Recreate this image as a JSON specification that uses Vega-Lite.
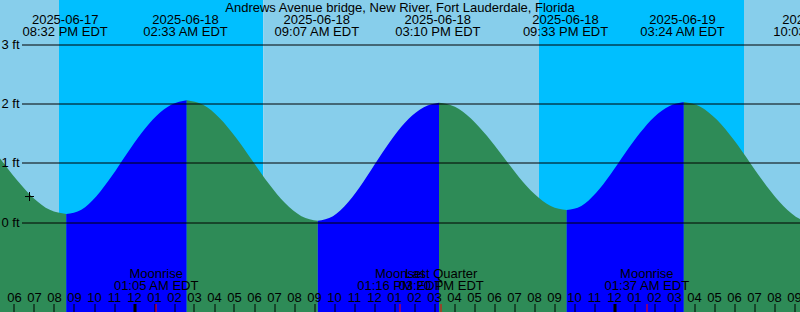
{
  "$schema": "https://vega.github.io/schema/vega-lite/v6.json",
  "width": 800,
  "height": 312,
  "autosize": "none",
  "padding": 0,
  "background": "white",
  "config": {"font": "Liberation Sans", "view": {"stroke": null}},
  "datasets": {
    "bands": [
      {"t": -7, "t_end": -3.775, "kind": "day"},
      {"t": -3.775, "t_end": 6.44, "kind": "night"},
      {"t": 6.44, "t_end": 20.225, "kind": "day"},
      {"t": 20.225, "t_end": 30.475, "kind": "night"},
      {"t": 30.475, "t_end": 34, "kind": "day"}
    ],
    "tide": [
      {"t": -7.529, "h": 1.427, "seg": 1, "kind": "falling"},
      {"t": -6.705, "h": 1.072, "seg": 1, "kind": "falling"},
      {"t": -5.881, "h": 0.716, "seg": 1, "kind": "falling"},
      {"t": -5.058, "h": 0.415, "seg": 1, "kind": "falling"},
      {"t": -4.234, "h": 0.214, "seg": 1, "kind": "falling"},
      {"t": -3.41, "h": 0.143, "seg": 1, "kind": "falling"},
      {"t": -3.41, "h": 0.143, "seg": 2, "kind": "rising"},
      {"t": -2.6575, "h": 0.216, "seg": 2, "kind": "rising"},
      {"t": -1.905, "h": 0.444, "seg": 2, "kind": "rising"},
      {"t": -1.1525, "h": 0.775, "seg": 2, "kind": "rising"},
      {"t": -0.4, "h": 1.152, "seg": 2, "kind": "rising"},
      {"t": 0.3525, "h": 1.508, "seg": 2, "kind": "rising"},
      {"t": 1.105, "h": 1.799, "seg": 2, "kind": "rising"},
      {"t": 1.8575, "h": 1.987, "seg": 2, "kind": "rising"},
      {"t": 2.61, "h": 2.06, "seg": 2, "kind": "rising"},
      {"t": 2.61, "h": 2.06, "seg": 3, "kind": "falling"},
      {"t": 3.429, "h": 1.983, "seg": 3, "kind": "falling"},
      {"t": 4.249, "h": 1.763, "seg": 3, "kind": "falling"},
      {"t": 5.068, "h": 1.433, "seg": 3, "kind": "falling"},
      {"t": 5.8875, "h": 1.045, "seg": 3, "kind": "falling"},
      {"t": 6.707, "h": 0.657, "seg": 3, "kind": "falling"},
      {"t": 7.526, "h": 0.327, "seg": 3, "kind": "falling"},
      {"t": 8.346, "h": 0.107, "seg": 3, "kind": "falling"},
      {"t": 9.165, "h": 0.03, "seg": 3, "kind": "falling"},
      {"t": 9.165, "h": 0.03, "seg": 4, "kind": "rising"},
      {"t": 9.9225, "h": 0.106, "seg": 4, "kind": "rising"},
      {"t": 10.68, "h": 0.341, "seg": 4, "kind": "rising"},
      {"t": 11.4375, "h": 0.684, "seg": 4, "kind": "rising"},
      {"t": 12.195, "h": 1.075, "seg": 4, "kind": "rising"},
      {"t": 12.9525, "h": 1.446, "seg": 4, "kind": "rising"},
      {"t": 13.71, "h": 1.749, "seg": 4, "kind": "rising"},
      {"t": 14.4675, "h": 1.944, "seg": 4, "kind": "rising"},
      {"t": 15.225, "h": 2.02, "seg": 4, "kind": "rising"},
      {"t": 15.225, "h": 2.02, "seg": 5, "kind": "falling"},
      {"t": 16.023, "h": 1.951, "seg": 5, "kind": "falling"},
      {"t": 16.821, "h": 1.755, "seg": 5, "kind": "falling"},
      {"t": 17.619, "h": 1.461, "seg": 5, "kind": "falling"},
      {"t": 18.4175, "h": 1.115, "seg": 5, "kind": "falling"},
      {"t": 19.216, "h": 0.769, "seg": 5, "kind": "falling"},
      {"t": 20.014, "h": 0.475, "seg": 5, "kind": "falling"},
      {"t": 20.812, "h": 0.279, "seg": 5, "kind": "falling"},
      {"t": 21.61, "h": 0.21, "seg": 5, "kind": "falling"},
      {"t": 21.61, "h": 0.21, "seg": 6, "kind": "rising"},
      {"t": 22.342, "h": 0.279, "seg": 6, "kind": "rising"},
      {"t": 23.074, "h": 0.496, "seg": 6, "kind": "rising"},
      {"t": 23.806, "h": 0.812, "seg": 6, "kind": "rising"},
      {"t": 24.5375, "h": 1.17, "seg": 6, "kind": "rising"},
      {"t": 25.269, "h": 1.508, "seg": 6, "kind": "rising"},
      {"t": 26.001, "h": 1.784, "seg": 6, "kind": "rising"},
      {"t": 26.733, "h": 1.961, "seg": 6, "kind": "rising"},
      {"t": 27.465, "h": 2.03, "seg": 6, "kind": "rising"},
      {"t": 27.465, "h": 2.03, "seg": 7, "kind": "falling"},
      {"t": 28.294, "h": 1.952, "seg": 7, "kind": "falling"},
      {"t": 29.124, "h": 1.73, "seg": 7, "kind": "falling"},
      {"t": 29.953, "h": 1.397, "seg": 7, "kind": "falling"},
      {"t": 30.7825, "h": 1.005, "seg": 7, "kind": "falling"},
      {"t": 31.612, "h": 0.613, "seg": 7, "kind": "falling"},
      {"t": 32.441, "h": 0.28, "seg": 7, "kind": "falling"},
      {"t": 33.271, "h": 0.058, "seg": 7, "kind": "falling"},
      {"t": 34.1, "h": -0.02, "seg": 7, "kind": "falling"}
    ],
    "now": [{"t": -5.25, "h": 0.438}],
    "title": [{"t": 13.275, "label": "Andrews Avenue bridge, New River, Fort Lauderdale, Florida"}],
    "extremes": [
      {"t": -3.4667, "label": "2025-06-17\n08:32 PM EDT"},
      {"t": 2.55, "label": "2025-06-18\n02:33 AM EDT"},
      {"t": 9.1167, "label": "2025-06-18\n09:07 AM EDT"},
      {"t": 15.1667, "label": "2025-06-18\n03:10 PM EDT"},
      {"t": 21.55, "label": "2025-06-18\n09:33 PM EDT"},
      {"t": 27.4, "label": "2025-06-19\n03:24 AM EDT"},
      {"t": 34.05, "label": "2025-06-19\n10:03 AM EDT"}
    ],
    "moon": [
      {"t": 1.0833, "label": "Moonrise\n01:05 AM EDT"},
      {"t": 13.2667, "label": "Moonset\n01:16 PM EDT"},
      {"t": 15.3333, "label": "Last Quarter\n03:20 PM EDT"},
      {"t": 25.6167, "label": "Moonrise\n01:37 AM EDT"}
    ]
  },
  "encoding": {
    "x": {"field": "t", "type": "quantitative", "scale": {"domain": [-6.725, 33.275], "nice": false, "zero": false},
      "axis": {"orient": "bottom", "offset": -8, "tickSize": 8, "domain": false, "grid": false, "title": null, "translate": 0, "zindex": 1,
        "values": [-6,-5,-4,-3,-2,-1,0,1,2,3,4,5,6,7,8,9,10,11,12,13,14,15,16,17,18,19,20,21,22,23,24,25,26,27,28,29,30,31,32,33,1.0833,13.2667,15.3333,25.6167],
        "labelExpr": "datum.value % 1 != 0 ? '' : format(((datum.value % 12) + 12) % 12 == 0 ? 12 : ((datum.value % 12) + 12) % 12, '02d')",
        "labelPadding": -10, "labelBaseline": "alphabetic", "labelFontSize": 13, "labelColor": "black", "labelFont": "Liberation Sans",
        "labelOverlap": false, "labelFlush": false, "labelBound": false,
        "tickColor": {"condition": {"test": "datum.value % 1 != 0", "value": "#ff0000"}, "value": "black"},
        "tickWidth": {"condition": {"test": "datum.value % 24 == 0", "value": 3}, "value": 1}}}
  },
  "layer": [
    {
      "data": {"name": "bands"},
      "mark": {"type": "rect", "clip": true},
      "encoding": {
        "x2": {"field": "t_end"},
        "color": {"field": "kind", "type": "nominal", "scale": {"domain": ["day", "night", "rising", "falling"], "range": ["#87CEEB", "#00BFFF", "#0000FF", "#2E8B57"]}, "legend": null}
      }
    },
    {
      "data": {"name": "tide"},
      "mark": {"type": "area", "interpolate": "monotone", "clip": true},
      "encoding": {
        "y": {"field": "h", "type": "quantitative", "stack": null, "scale": {"domain": [-1.508, 3.75], "nice": false, "zero": false},
          "axis": {"orient": "left", "offset": -800, "tickSize": 778, "domain": false, "grid": false, "title": null, "translate": 0, "zindex": 1,
            "values": [0, 1, 2, 3], "labelExpr": "datum.value + ' ft'", "labelPadding": 2.5, "labelBaseline": "middle",
            "labelFontSize": 13, "labelColor": "black", "labelFont": "Liberation Sans", "tickColor": "black", "tickWidth": 1}},
        "y2": {"datum": -1.508},
        "detail": {"field": "seg", "type": "nominal"},
        "color": {"field": "kind", "type": "nominal", "legend": null}
      }
    },
    {
      "data": {"name": "now"},
      "mark": {"type": "point", "shape": "M-1,0L1,0M0,-1L0,1", "size": 81, "filled": false, "stroke": "black", "strokeWidth": 1, "opacity": 1},
      "encoding": {
        "y": {"field": "h", "type": "quantitative"}
      }
    },
    {
      "data": {"name": "title"},
      "mark": {"type": "text", "baseline": "alphabetic", "align": "center", "fontSize": 13, "color": "black", "font": "Liberation Sans"},
      "encoding": {
        "y": {"datum": 3.556},
        "text": {"field": "label", "type": "nominal"}
      }
    },
    {
      "data": {"name": "extremes"},
      "mark": {"type": "text", "lineBreak": "\n", "lineHeight": 12, "baseline": "alphabetic", "align": "center", "fontSize": 13, "color": "black", "font": "Liberation Sans"},
      "encoding": {
        "y": {"datum": 3.345},
        "text": {"field": "label", "type": "nominal"}
      }
    },
    {
      "data": {"name": "moon"},
      "mark": {"type": "text", "lineBreak": "\n", "lineHeight": 12, "baseline": "alphabetic", "align": "center", "fontSize": 13, "color": "black", "font": "Liberation Sans"},
      "encoding": {
        "y": {"datum": -0.935},
        "text": {"field": "label", "type": "nominal"}
      }
    }
  ]
}
